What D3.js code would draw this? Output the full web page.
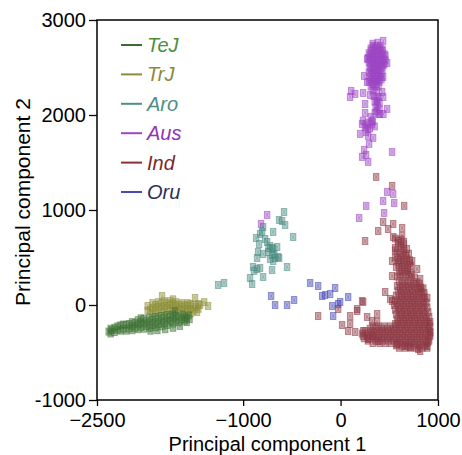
<!DOCTYPE html>
<html>
<head>
<meta charset="utf-8">
<title>PCA</title>
<script src="https://d3js.org/d3.v7.min.js"></script>
<style>
  body { margin: 0; background: #fff; }
  svg { font-family: "Liberation Sans", Arial, sans-serif; }
</style>
</head>
<body>
<div id="chartDiv"></div>
<script>
// ---- data (PC1 / PC2) ----
var groups = ["TeJ", "TrJ", "Aro", "Aus", "Ind", "Oru"];
var pointColors = ["#3f7235", "#8d8f37", "#4a8c82", "#9d46c4", "#8e3a44", "#4848b8"];
var lineColors  = ["#3d6b34", "#8c8c3a", "#4e8e86", "#a045c8", "#8b3035", "#4a4ab5"];
var textColors  = ["#4a8f3f", "#8a8a3a", "#4e8e86", "#8e35b5", "#7a2a2a", "#2e2e5a"];
var xTicks = [-2500, -1000, 0, 1000];
var yTicks = [-1000, 0, 1000, 2000, 3000];

var trjPoints = [
  [-1980,-60],[-1980,-10],[-1930,-90],[-1930,-30],[-1930,20],[-1870,-80],[-1870,-20],[-1870,30],
  [-1810,-70],[-1810,-10],[-1810,40],[-1750,-60],[-1750,0],[-1750,40],[-1690,-70],[-1690,-10],
  [-1690,30],[-1630,-80],[-1630,-20],[-1630,20],[-1570,-70],[-1570,-10],[-1570,20],[-1510,-60],
  [-1510,0],[-1460,-40],[-1460,10],[-1832,95],[-1720,60],[-1494,74],[-1442,0],[-1473,-74],
  [-1360,-10],[-1400,30],[-1540,-90],
  [-1955,-55],[-1900,-55],[-1900,0],[-1840,-45],[-1840,10],[-1780,-40],[-1780,20],[-1720,-40],
  [-1720,15],[-1660,-45],[-1660,5],[-1600,-50],[-1600,0],[-1540,-40],[-1540,10],[-1485,-20]
];
var tejPoints = [
  [-2380,-280],[-2360,-250],[-2320,-285],[-2320,-240],[-2260,-270],[-2260,-215],[-2200,-270],
  [-2200,-210],[-2140,-265],[-2140,-220],[-2140,-180],[-2080,-255],[-2080,-205],[-2080,-160],
  [-2020,-250],[-2020,-195],[-2020,-145],[-1960,-240],[-1960,-185],[-1960,-135],[-1900,-235],
  [-1900,-180],[-1900,-125],[-1840,-225],[-1840,-170],[-1840,-115],[-1780,-210],[-1780,-160],
  [-1780,-105],[-1720,-195],[-1720,-145],[-1720,-100],[-1660,-180],[-1660,-130],[-1600,-165],
  [-1600,-130],[-1550,-150],[-1950,-270],[-1880,-265],[-1800,-255],[-1720,-240],[-1650,-220],
  [-1580,-180],[-1700,-65],[-1560,-110],[-2360,-300],[-1620,-100],
  [-2350,-265],[-2290,-260],[-2290,-225],[-2230,-250],[-2230,-205],[-2170,-245],[-2170,-200],
  [-2110,-240],[-2110,-190],[-2050,-230],[-2050,-180],[-2050,-140],[-1990,-220],[-1990,-165],
  [-1930,-210],[-1930,-155],[-1870,-200],[-1870,-145],[-1810,-190],[-1810,-135],[-1750,-175],
  [-1750,-125],[-1690,-160],[-1690,-115],[-1630,-150],[-1580,-140]
];
var aroPoints = [
  [-580,979],[-631,895],[-600,884],[-569,842],[-795,821],[-805,769],[-826,748],[-692,769],
  [-867,705],[-775,695],[-487,716],[-836,642],[-754,663],[-723,621],[-692,590],[-651,611],
  [-744,558],[-703,527],[-672,495],[-641,506],[-723,484],[-700,600],[-740,600],[-680,540],
  [-847,558],[-795,537],[-857,495],[-692,463],[-631,495],[-549,400],[-898,400],[-857,379],
  [-826,390],[-888,358],[-703,368],[-795,295],[-929,284],[-908,221],[-1257,211],[-1196,232]
];
var ausPoints = [
  [330,2750],[380,2760],[310,2700],[350,2710],[400,2700],[430,2690],[290,2650],[330,2650],
  [370,2660],[410,2650],[450,2640],[280,2600],[320,2600],[360,2610],[400,2600],[440,2590],
  [290,2550],[330,2550],[370,2560],[410,2550],[450,2540],[300,2500],[340,2500],[380,2510],
  [420,2500],[290,2450],[330,2450],[370,2460],[410,2450],[300,2400],[340,2400],[380,2410],
  [420,2400],[290,2350],[330,2350],[370,2360],[400,2350],[310,2300],[350,2300],[390,2300],
  [330,2725],[370,2725],[410,2725],[310,2675],[350,2675],[390,2675],[430,2675],[300,2625],
  [340,2625],[380,2625],[420,2625],[460,2625],[300,2575],[340,2575],[380,2575],[420,2575],
  [460,2575],[320,2525],[360,2525],[400,2525],[440,2525],[310,2475],[350,2475],[390,2475],
  [430,2475],[320,2425],[360,2425],[400,2425],[310,2375],[350,2375],[390,2375],[420,2375],
  [330,2325],[370,2325],
  [340,2200],[390,2190],[350,2140],[400,2130],[360,2080],[400,2060],[350,2020],[390,2010],
  [230,1940],[280,1920],[330,1930],[250,1870],[300,1860],[350,1880],[260,1820],
  [370,2250],[330,2260],[370,2170],[380,2100],[370,2040],[310,1980],[260,1900],[320,1900],
  [280,1850],
  [437,2780],[273,2590],[478,2548],[242,2411],[437,2401],[273,2348],[109,2253],[150,2222],
  [98,2190],[232,2232],[304,2211],[427,2243],[437,2190],[252,2116],[375,2148],[478,2064],
  [406,2011],[440,2010],[252,2022],[221,1906],[324,1938],[201,1801],[283,1780],[334,1759],
  [293,1696],[242,1632],[263,1580],[221,1559],[283,1506],[529,1611],[478,1190],[540,1169],
  [437,1095],[550,1074],[263,1043],[447,969],[191,916],[-754,948],[-816,853]
];
var indPoints = [
  [560,700],[620,690],[590,650],[650,640],[560,600],[620,600],[680,590],[580,550],[640,550],
  [700,540],[560,500],[620,500],[680,490],[590,450],[650,450],[710,440],[570,400],[630,400],
  [690,390],[600,350],[660,350],[720,340],[580,300],[640,300],[700,300],[760,290],
  [590,675],[650,665],[620,625],[560,575],[650,575],[610,525],[670,520],[590,475],[650,470],
  [710,470],[600,425],[660,420],[720,415],[630,375],[690,370],[610,325],[670,325],[730,320],
  [600,250],[660,250],[720,250],[780,240],[580,200],[640,200],[700,200],[760,200],[820,190],
  [590,150],[650,150],[710,150],[770,150],[830,140],[570,100],[630,100],[690,100],[750,100],
  [810,100],[860,90],[560,50],[620,50],[680,50],[740,50],[800,50],[860,40],[550,0],[610,0],
  [670,0],[730,0],[790,0],[850,0],
  [630,225],[690,225],[750,225],[810,225],[610,175],[670,175],[730,175],[790,175],[850,175],
  [620,125],[680,125],[740,125],[800,125],[860,125],[600,75],[660,75],[720,75],[780,75],
  [840,75],[890,75],[580,25],[640,25],[700,25],[760,25],[820,25],[880,25],
  [560,-50],[620,-50],[680,-50],[740,-50],[800,-50],[860,-50],
  [570,-100],[630,-100],[690,-100],[750,-100],[810,-100],[870,-100],
  [580,-150],[640,-150],[700,-150],[760,-150],[820,-150],[880,-150],
  [560,-200],[620,-200],[680,-200],[740,-200],[800,-200],[860,-200],[910,-200],
  [300,-250],[360,-250],[420,-250],[480,-250],[540,-250],[600,-250],[660,-250],[720,-250],
  [780,-250],[840,-250],[900,-250],
  [220,-300],[280,-300],[340,-300],[400,-300],[460,-300],[520,-300],[580,-300],[640,-300],
  [700,-300],[760,-300],[820,-300],[880,-300],[920,-300],
  [240,-350],[300,-350],[360,-350],[420,-350],[480,-350],[540,-350],[600,-350],[660,-350],
  [720,-350],[780,-350],[840,-350],[900,-350],
  [330,-400],[400,-400],[460,-400],[520,-400],[580,-400],[640,-400],[700,-400],[760,-400],
  [820,-400],[880,-400],
  [600,-450],[660,-450],[720,-450],[780,-450],[840,-450],[890,-450],
  [590,-25],[650,-25],[710,-25],[770,-25],[830,-25],[890,-25],
  [600,-75],[660,-75],[720,-75],[780,-75],[840,-75],[900,-75],
  [610,-125],[670,-125],[730,-125],[790,-125],[850,-125],[910,-125],
  [590,-175],[650,-175],[710,-175],[770,-175],[830,-175],[890,-175],
  [330,-225],[390,-225],[450,-225],[510,-225],[570,-225],[630,-225],[690,-225],[750,-225],
  [810,-225],[870,-225],[920,-225],
  [250,-275],[310,-275],[370,-275],[430,-275],[490,-275],[550,-275],[610,-275],[670,-275],
  [730,-275],[790,-275],[850,-275],[910,-275],
  [230,-325],[270,-325],[330,-325],[390,-325],[450,-325],[510,-325],[570,-325],[630,-325],
  [690,-325],[750,-325],[810,-325],[870,-325],[920,-325],
  [280,-375],[360,-375],[430,-375],[490,-375],[550,-375],[610,-375],[670,-375],[730,-375],
  [790,-375],[850,-375],[910,-375],
  [570,-425],[630,-425],[690,-425],[750,-425],[810,-425],[870,-425],
  [437,874],[540,853],[632,811],[386,779],[488,800],[252,674],[540,716],[632,727],[365,1348],
  [529,1253],[653,1043],[529,463],[735,463],[786,379],[529,305],[817,274],[458,137],[827,179],
  [221,42],[509,63],[170,-42],[98,-116],[273,-126],[375,-95],[16,-211],[98,-200],[78,-274],
  [150,-284],[232,-274],[324,-168],[324,-326],[386,-379],[581,-411],[663,-432],[797,-463],
  [889,-432],[920,-179],[920,-284],[899,-390],[-25,-42],[-230,-116],[529,42],[232,32],
  [170,-63],[375,-179],[817,-484],[715,-442],[283,-358]
];
var oruPoints = [
  [-713,95],[-672,0],[-549,0],[-477,53],[-312,232],[-230,200],[-189,95],[-107,116],[-56,179],
  [-86,-11],[-25,11],[-76,-116],[78,84],[-4,32],[-158,105]
];

// draw order: TrJ under TeJ
var layers = [
  {name: "TrJ", pts: trjPoints},
  {name: "TeJ", pts: tejPoints},
  {name: "Aro", pts: aroPoints},
  {name: "Aus", pts: ausPoints},
  {name: "Ind", pts: indPoints},
  {name: "Oru", pts: oruPoints}
];

var W = 462, H = 455;
var margin = {top: 20, right: 24, bottom: 55, left: 97};

var svg = d3.select("#chartDiv").append("svg")
  .attr("width", W).attr("height", H);

var x = d3.scaleLinear().domain([-2500, 1000]).range([margin.left, W - margin.right]);
var y = d3.scaleLinear().domain([-1000, 3000]).range([H - margin.bottom, margin.top]);

// points: small boxed crosses
var plot = svg.append("g");
layers.forEach(function(layer) {
  var col = pointColors[groups.indexOf(layer.name)];
  var g = plot.append("g");
  var m = g.selectAll("g.pt").data(layer.pts).enter().append("g")
    .attr("class", "pt")
    .attr("transform", function(d) { return "translate(" + x(d[0]) + "," + y(d[1]) + ")"; });
  m.append("rect")
    .attr("x", -2.7).attr("y", -3.5).attr("width", 5.4).attr("height", 7)
    .attr("fill", col).attr("fill-opacity", 0.42)
    .attr("stroke", col).attr("stroke-opacity", 0.55).attr("stroke-width", 1);
  m.append("path")
    .attr("d", "M-1.5,-2.5L1.5,2.5M1.5,-2.5L-1.5,2.5")
    .attr("stroke", col).attr("stroke-opacity", 0.4).attr("stroke-width", 0.8);
});

// axes
var xAxis = d3.axisBottom(x).tickValues(xTicks).tickSize(6).tickPadding(7)
  .tickFormat(d3.format("d"));
svg.append("g")
  .attr("transform", "translate(0," + (H - margin.bottom) + ")")
  .call(xAxis)
  .call(function(g) { g.select(".domain").remove(); })
  .selectAll("text").style("font-size", "20px").attr("fill", "#000");

var yAxis = d3.axisLeft(y).tickValues(yTicks).tickSize(8).tickPadding(3)
  .tickFormat(function(d) { return String(d); });
svg.append("g")
  .attr("transform", "translate(" + margin.left + ",0)")
  .call(yAxis)
  .call(function(g) { g.select(".domain").remove(); })
  .selectAll("text").style("font-size", "20px").attr("fill", "#000");

svg.selectAll(".tick line").attr("stroke", "#000").attr("stroke-width", 1.3);

// frame
svg.append("rect")
  .attr("x", margin.left).attr("y", margin.top)
  .attr("width", W - margin.left - margin.right)
  .attr("height", H - margin.top - margin.bottom)
  .attr("fill", "none").attr("stroke", "#000").attr("stroke-width", 1.5);

// axis titles
svg.append("text")
  .attr("x", (margin.left + W - margin.right) / 2).attr("y", 451)
  .attr("text-anchor", "middle").style("font-size", "20px")
  .text("Principal component 1");

svg.append("text")
  .attr("transform", "rotate(-90)")
  .attr("x", -202).attr("y", 30)
  .attr("text-anchor", "middle").style("font-size", "21px")
  .text("Principal component 2");

// legend
var legend = svg.append("g");
groups.forEach(function(name, i) {
  var ly = 45 + i * 29.4;
  legend.append("line")
    .attr("x1", 121).attr("x2", 142).attr("y1", ly).attr("y2", ly)
    .attr("stroke", lineColors[i]).attr("stroke-width", 2);
  legend.append("text")
    .attr("x", 147).attr("y", ly + 7)
    .style("font-size", "20px").style("font-style", "italic")
    .attr("fill", textColors[i])
    .text(name);
});
</script>
</body>
</html>
